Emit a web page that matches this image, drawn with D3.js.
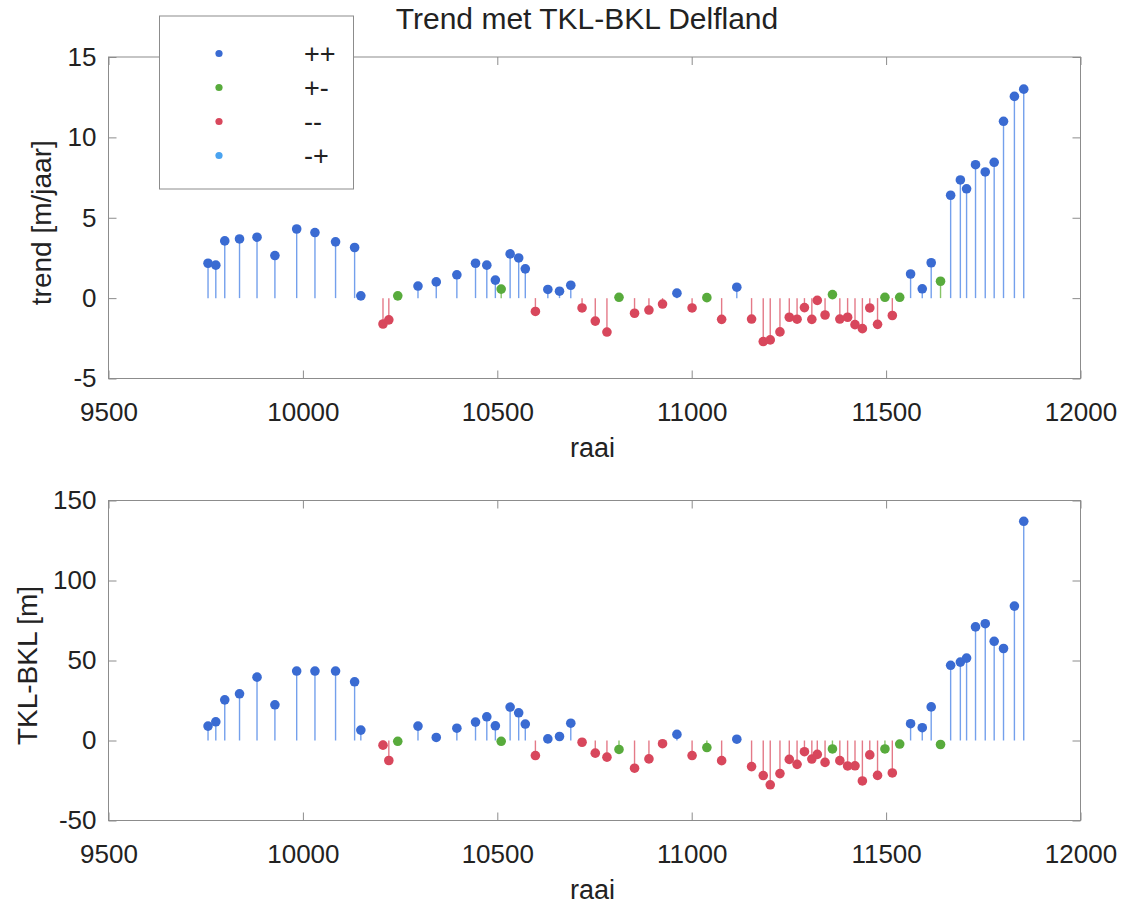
<!DOCTYPE html>
<html>
<head>
<meta charset="utf-8">
<script src="https://cdn.jsdelivr.net/npm/d3@7"></script>
<style>
  body { margin: 0; background: #fff; }
  text { font-family: "Liberation Sans", Arial, sans-serif; fill: #222; }
</style>
</head>
<body>
<script>
// raai numbers along the coast and the two measured quantities per raai
var raai = [9756, 9776, 9799, 9837, 9882, 9928, 9984, 10031, 10084, 10133, 10149, 10206, 10221, 10244, 10296,
  10343, 10396, 10444, 10473, 10495, 10510, 10533, 10555, 10572, 10598, 10630, 10660, 10689, 10718, 10752,
  10782, 10813, 10853, 10890, 10925, 10962, 11001, 11039, 11077, 11116, 11154, 11184, 11202, 11227, 11251,
  11271, 11290, 11309, 11323, 11343, 11362, 11381, 11401, 11420, 11439, 11458, 11478, 11497, 11516, 11535,
  11563, 11593, 11616, 11640, 11666, 11691, 11707, 11730, 11755, 11778, 11802, 11830, 11854];

var trend = [2.17, 2.05, 3.56, 3.68, 3.79, 2.65, 4.30, 4.08, 3.50, 3.15, 0.14, -1.61, -1.35, 0.14, 0.75,
  1.01, 1.45, 2.17, 2.05, 1.12, 0.56, 2.75, 2.50, 1.82, -0.83, 0.54, 0.43, 0.80, -0.61, -1.43,
  -2.11, 0.05, -0.94, -0.74, -0.37, 0.31, -0.61, 0.03, -1.32, 0.68, -1.30, -2.70, -2.60, -2.10, -1.19,
  -1.31, -0.59, -1.32, -0.14, -1.05, 0.22, -1.30, -1.19, -1.65, -1.90, -0.61, -1.63, 0.05, -1.08, 0.05,
  1.50, 0.58, 2.20, 1.05, 6.40, 7.35, 6.80, 8.30, 7.85, 8.45, 11.00, 12.55, 13.00];

var tklBkl = [9.0, 11.7, 25.4, 29.2, 39.6, 22.3, 43.4, 43.4, 43.4, 36.7, 6.5, -2.9, -12.5, -0.5, 9.0,
  1.9, 7.7, 11.5, 14.8, 9.2, -0.5, 20.9, 17.3, 10.3, -9.4, 1.0, 2.5, 10.8, -1.1, -7.9,
  -10.4, -5.6, -17.3, -11.5, -2.0, 3.8, -9.4, -4.4, -12.6, 0.8, -16.3, -21.9, -27.7, -20.7, -11.8,
  -14.9, -7.0, -11.6, -8.7, -13.7, -5.3, -12.6, -15.9, -15.8, -25.3, -9.0, -21.8, -5.3, -20.3, -2.2,
  10.5, 8.0, 21.0, -2.5, 47.0, 49.0, 51.5, 71.0, 73.0, 62.0, 57.5, 84.0, 137.0];

var classLabels = ["++", "+-", "--", "-+"];
var classColors = ["#3a6bd2", "#58ab3c", "#d8475c", "#4aa3f0"];
var stemColors = ["#74a0ec", "#86c466", "#e47a88", "#84c0f4"];

var xTicks = [9500, 10000, 10500, 11000, 11500, 12000];
var trendTicks = [-5, 0, 5, 10, 15];
var tklTicks = [-50, 0, 50, 100, 150];

// sign of trend and of TKL-BKL gives the class
function classOf(i) {
  var t = trend[i] >= 0, k = tklBkl[i] >= 0;
  if (t && k) return 0;
  if (t && !k) return 1;
  if (!t && !k) return 2;
  return 3;
}

var W = 1131, H = 904;
var frame = "#8c8c8c";
var plain = function(d) { return String(d); };

var svg = d3.select("body").append("svg")
  .attr("width", W)
  .attr("height", H);

var x = d3.scaleLinear().domain([9500, 12000]).range([108.5, 1080.5]);

function drawPanel(values, yDomain, yTicks, top, bottom, yLabel, yLabelX) {
  var y = d3.scaleLinear().domain(yDomain).range([bottom, top]);
  var g = svg.append("g");

  g.append("rect")
    .attr("x", x.range()[0]).attr("y", top)
    .attr("width", x.range()[1] - x.range()[0]).attr("height", bottom - top)
    .attr("fill", "none").attr("stroke", frame).attr("stroke-width", 1);

  var axB = g.append("g").attr("transform", "translate(0," + bottom + ")")
    .call(d3.axisBottom(x).tickValues(xTicks).tickSizeInner(-8).tickSizeOuter(0).tickPadding(24).tickFormat(plain));
  var axT = g.append("g").attr("transform", "translate(0," + top + ")")
    .call(d3.axisTop(x).tickValues(xTicks).tickSizeInner(-8).tickSizeOuter(0).tickFormat(""));
  var axL = g.append("g").attr("transform", "translate(" + x.range()[0] + ",0)")
    .call(d3.axisLeft(y).tickValues(yTicks).tickSizeInner(-8).tickSizeOuter(0).tickPadding(12).tickFormat(plain));
  var axR = g.append("g").attr("transform", "translate(" + x.range()[1] + ",0)")
    .call(d3.axisRight(y).tickValues(yTicks).tickSizeInner(-8).tickSizeOuter(0).tickFormat(""));

  [axB, axT, axL, axR].forEach(function(a) {
    a.select(".domain").remove();
    a.selectAll(".tick line").attr("stroke", frame);
    a.selectAll(".tick text").attr("font-size", 26).attr("fill", "#222")
      .style("font-family", '"Liberation Sans", Arial, sans-serif');
  });
  axB.selectAll(".tick text").attr("dy", null).attr("y", 24 + 18.5);

  // stems then markers
  g.append("g").selectAll("line")
    .data(raai)
    .enter().append("line")
      .attr("x1", function(d) { return x(d); })
      .attr("x2", function(d) { return x(d); })
      .attr("y1", y(0))
      .attr("y2", function(d, i) { return y(values[i]); })
      .attr("stroke", function(d, i) { return stemColors[classOf(i)]; })
      .attr("stroke-width", 1.4);

  g.append("g").selectAll("circle")
    .data(raai)
    .enter().append("circle")
      .attr("cx", function(d) { return x(d); })
      .attr("cy", function(d, i) { return y(values[i]); })
      .attr("r", 4.8)
      .attr("fill", function(d, i) { return classColors[classOf(i)]; });

  g.append("text")
    .attr("x", (x.range()[0] + x.range()[1]) / 2 - 2)
    .attr("y", bottom + 78)
    .attr("text-anchor", "middle")
    .attr("font-size", 27)
    .text("raai");

  g.append("text")
    .attr("transform", "translate(" + yLabelX + "," + ((top + bottom) / 2 + 5) + ") rotate(-90)")
    .attr("text-anchor", "middle")
    .attr("font-size", 28)
    .text(yLabel);
}

drawPanel(trend, [-5, 15], trendTicks, 57, 378.5, "trend [m/jaar]", 51);
drawPanel(tklBkl, [-50, 150], tklTicks, 500.5, 820.5, "TKL-BKL [m]", 37);

svg.append("text")
  .attr("x", 587)
  .attr("y", 29)
  .attr("text-anchor", "middle")
  .attr("font-size", 30)
  .text("Trend met TKL-BKL Delfland");

// legend, sits over the top frame
var legend = svg.append("g");
legend.append("rect")
  .attr("x", 159.5).attr("y", 16)
  .attr("width", 194).attr("height", 173)
  .attr("fill", "#fff").attr("stroke", frame).attr("stroke-width", 1);

var rows = legend.selectAll("g.row")
  .data(classLabels)
  .enter().append("g")
    .attr("class", "row")
    .attr("transform", function(d, i) { return "translate(0," + (53.5 + i * 34) + ")"; });

rows.append("circle")
  .attr("cx", 219)
  .attr("r", 3.6)
  .attr("fill", function(d, i) { return classColors[i]; });

rows.append("text")
  .attr("x", 304)
  .attr("dy", "0.36em")
  .attr("font-size", 27)
  .text(function(d) { return d; });
</script>
</body>
</html>
